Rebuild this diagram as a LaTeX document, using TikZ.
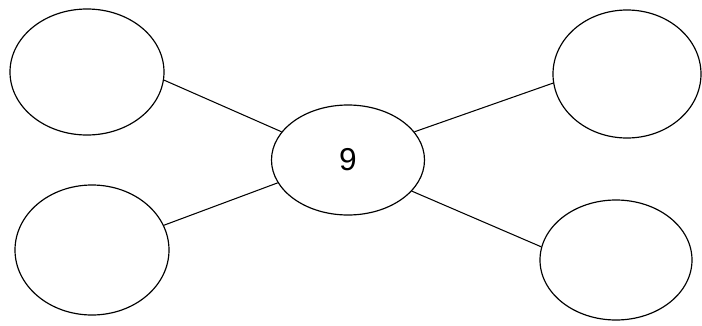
\documentclass[tikz,border=0pt]{standalone}
\usepackage{fontspec}
\setmainfont{Liberation Sans}
\usepackage{tikz}
\usetikzlibrary{positioning,shapes.geometric}
\tikzset{
  bubble/.style={draw, ellipse, line width=1pt, inner sep=0pt},
  spoke/.style={line width=0.9pt}
}
\begin{document}
\begin{tikzpicture}
  \useasboundingbox (0,0) rectangle (21.06,-9.78);
  \node[bubble, minimum width=45.9mm, minimum height=33mm, font=\fontsize{27}{30}\selectfont] (hub) at (10.44,-4.8) {9};
  \node[bubble, minimum width=46.2mm, minimum height=37.8mm] (tl) at (2.61,-2.16) {};
  \node[bubble, minimum width=46.2mm, minimum height=39mm] (bl) at (2.76,-7.5) {};
  \node[bubble, minimum width=44.4mm, minimum height=38.4mm] (tr) at (18.81,-2.22) {};
  \node[bubble, minimum width=45.6mm, minimum height=36mm] (br) at (18.48,-7.8) {};
  \draw[spoke] (tl.-6) -- (hub.157);
  \draw[spoke] (bl.19) -- (hub.198);
  \draw[spoke] (tr.187) -- (hub.23);
  \draw[spoke] (br.170) -- (hub.-26);
\end{tikzpicture}
\end{document}
